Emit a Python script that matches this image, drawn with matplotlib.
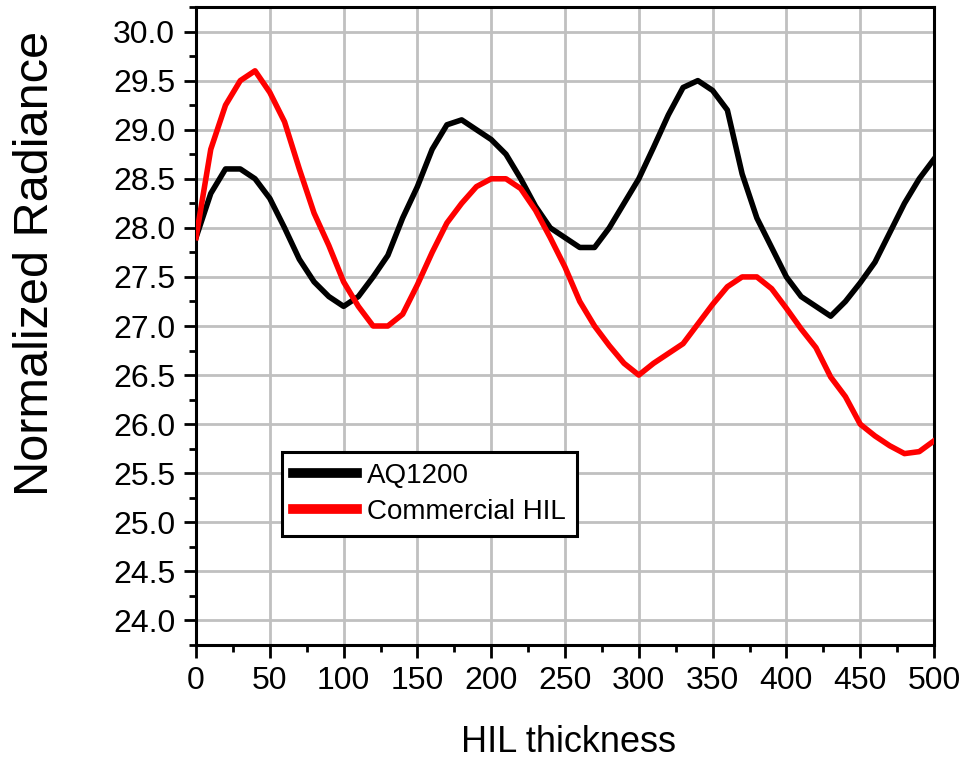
import numpy as np
import matplotlib
matplotlib.use("Agg")
import matplotlib.pyplot as plt
from matplotlib.ticker import MultipleLocator

plt.rcParams['font.family'] = ['Liberation Sans', 'DejaVu Sans']

# HIL thickness (every 10)
thickness = list(range(0, 501, 10))

aq1200 = [27.9, 28.35, 28.6, 28.6, 28.5, 28.3, 28.0, 27.68, 27.45, 27.3,
          27.2, 27.3, 27.5, 27.72, 28.1, 28.42, 28.8, 29.05, 29.1, 29.0,
          28.9, 28.75, 28.5, 28.22, 28.0, 27.9, 27.8, 27.8, 28.0, 28.25,
          28.5, 28.82, 29.15, 29.43, 29.5, 29.4, 29.2, 28.55, 28.1, 27.8,
          27.5, 27.3, 27.2, 27.1, 27.25, 27.44, 27.65, 27.95, 28.25, 28.5,
          28.7]

commercial = [27.9, 28.8, 29.25, 29.5, 29.6, 29.38, 29.08, 28.6, 28.15, 27.82,
              27.45, 27.2, 27.0, 27.0, 27.12, 27.42, 27.75, 28.05, 28.25, 28.42,
              28.5, 28.5, 28.4, 28.18, 27.9, 27.6, 27.25, 27.0, 26.8, 26.62,
              26.5, 26.62, 26.72, 26.82, 27.02, 27.22, 27.4, 27.5, 27.5, 27.38,
              27.18, 26.97, 26.78, 26.48, 26.28, 26.0, 25.88, 25.78, 25.7, 25.72,
              25.83]

W, H = 963, 758
fig = plt.figure(figsize=(W / 100, H / 100), dpi=100)
ax = fig.add_axes([196 / W, 1 - 645 / H, (934 - 196) / W, (645 - 7) / H])

ax.plot(thickness, aq1200, color='black', lw=4, label='AQ1200', zorder=3)
ax.plot(thickness, commercial, color='red', lw=4, label='Commercial HIL', zorder=3)

ax.set_xlim(0, 500)
ax.set_ylim(23.75, 30.25)
ax.xaxis.set_major_locator(MultipleLocator(50))
ax.xaxis.set_minor_locator(MultipleLocator(25))
ax.yaxis.set_major_locator(MultipleLocator(0.5))
ax.yaxis.set_minor_locator(MultipleLocator(0.25))
ax.set_yticks(np.arange(24.0, 30.01, 0.5))
ax.set_yticklabels(["%.1f" % v for v in np.arange(24.0, 30.01, 0.5)])

ax.grid(True, which='major', color='#c0c0c0', lw=2, zorder=0)
ax.set_axisbelow(True)

for s in ax.spines.values():
    s.set_linewidth(2.2)
ax.tick_params(which='major', direction='out', length=9, width=2, labelsize=23, pad=6)
ax.tick_params(which='minor', direction='out', length=5, width=2)

leg = ax.legend(loc='upper left', bbox_to_anchor=(0.1165, 0.3025), borderaxespad=0,
                fontsize=20, frameon=True, fancybox=False, framealpha=1,
                handlelength=2.3, handletextpad=0.35, labelspacing=0.35,
                borderpad=0.4)
leg.get_frame().set_edgecolor('black')
leg.get_frame().set_linewidth(2.2)
for line in leg.get_lines():
    line.set_linewidth(7)

fig.text(568 / W, 1 - 742 / H, 'HIL thickness', fontsize=26, ha='center', va='center')
fig.text(36 / W, 1 - 263 / H, 'Normalized Radiance', fontsize=35, rotation=90,
         ha='center', va='center')

fig.savefig('out.png', dpi=100)
